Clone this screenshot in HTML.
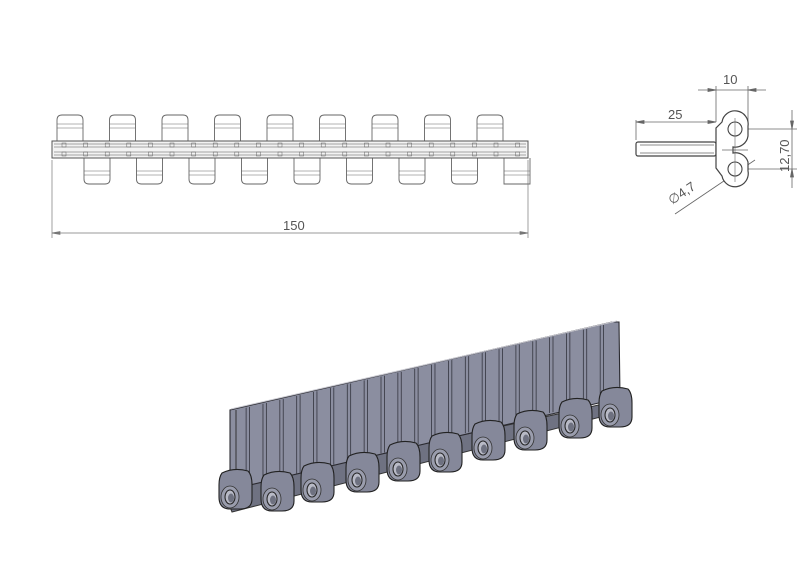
<!DOCTYPE html>
<html><head><meta charset="utf-8"><style>
html,body{margin:0;padding:0;background:#fff;width:800px;height:567px;overflow:hidden}
svg{display:block}
text{font-family:"Liberation Sans",sans-serif;fill:#555}
</style></head><body>
<svg id="s" width="800" height="567" viewBox="0 0 800 567" xmlns="http://www.w3.org/2000/svg">
<g id="topv" stroke="#666" stroke-width="0.9" fill="none"></g>
<g stroke="#777" stroke-width="0.7" fill="none">
<line x1="52" y1="160" x2="52" y2="238"/><line x1="528" y1="160" x2="528" y2="238"/>
<line x1="52" y1="233" x2="528" y2="233"/>
<path d="M52 233 l8 -1.5 v3 z M528 233 l-8 -1.5 v3 z" fill="#777"/>
</g>
<text x="283" y="230" font-size="13">150</text>
<g stroke="#666" stroke-width="0.8" fill="none">
<line x1="636" y1="120" x2="636" y2="140"/>
<line x1="636" y1="122" x2="716" y2="122"/><path d="M636 122 l8 -1.5 v3z M716 122 l-8 -1.5 v3z" fill="#666"/>
<line x1="716" y1="86" x2="716" y2="122"/><line x1="748" y1="86" x2="748" y2="122"/>
<line x1="698" y1="90" x2="766" y2="90"/><path d="M716 90 l-8 -1.5 v3z M748 90 l8 -1.5 v3z" fill="#666"/>
<line x1="748" y1="129" x2="797" y2="129"/><line x1="745" y1="169" x2="797" y2="169"/>
<line x1="792" y1="110" x2="792" y2="188"/><path d="M792 129 l-1.5 -8 h3z M792 169 l-1.5 8 h3z" fill="#666"/>
<line x1="675" y1="214" x2="755" y2="160"/>
<rect x="636" y="142" width="80" height="14" rx="2" stroke="#444" stroke-width="1.2"/>
<line x1="640" y1="145" x2="714" y2="145"/><line x1="640" y1="153" x2="714" y2="153"/>
<path d="M722 122 A13 13 0 0 1 748 126 L748 136 A13 13 0 0 1 733 147 L733 153 A13 13 0 0 1 748 162 L748 171 A13 13 0 0 1 722 176 L716 168 L716 128 Z" stroke="#444" stroke-width="1.2" fill="#fff"/>
<circle cx="735" cy="129" r="7" stroke="#444" stroke-width="1.1"/>
<circle cx="735" cy="169" r="7" stroke="#444" stroke-width="1.1"/>
<line x1="735" y1="118" x2="735" y2="182" stroke-width="0.6"/>
<line x1="722" y1="150" x2="748" y2="150"/>
</g>
<text x="723" y="84" font-size="13">10</text>
<text x="668" y="119" font-size="13">25</text>
<text font-size="13" transform="translate(789,172) rotate(-90)">12,70</text>
<text font-size="13" transform="translate(672,205) rotate(-34)">∅4,7</text>
<g id="iso"></g>
</svg>
<script>
(function(){
const ns="http://www.w3.org/2000/svg";
function el(p,t,a){const e=document.createElementNS(ns,t);for(const k in a)e.setAttribute(k,a[k]);p.appendChild(e);return e;}
const tp=document.getElementById('topv');
for(let i=0;i<9;i++){const x=57+i*52.5;
 el(tp,'path',{d:`M${x} 141 V120 Q${x} 115 ${x+5} 115 H${x+21} Q${x+26} 115 ${x+26} 120 V141`});
 el(tp,'line',{x1:x,y1:124,x2:x+26,y2:124,'stroke-width':0.5});el(tp,'line',{x1:x,y1:128,x2:x+26,y2:128,'stroke-width':0.5});
 const bx=84+i*52.5;const last=i==8;
 el(tp,'path',{d:last?`M${bx} 158 V184 H${bx+26} V158`:`M${bx} 158 V179 Q${bx} 184 ${bx+5} 184 H${bx+21} Q${bx+26} 184 ${bx+26} 179 V158`});
 el(tp,'line',{x1:bx,y1:171,x2:bx+26,y2:171,'stroke-width':0.5});el(tp,'line',{x1:bx,y1:175,x2:bx+26,y2:175,'stroke-width':0.5});
}
el(tp,'rect',{x:52,y:141,width:476,height:17,fill:'#f3f3f3',stroke:'#555','stroke-width':1});
[144,147,152,155].forEach(y=>el(tp,'line',{x1:54,y1:y,x2:526,y2:y,stroke:'#555','stroke-width':0.6}));
for(let x=62;x<526;x+=21.6){el(tp,'rect',{x:x,y:143,width:4,height:4,'stroke-width':0.5});el(tp,'rect',{x:x,y:152,width:4,height:4,'stroke-width':0.5});}
const iso=document.getElementById('iso');
el(iso,'path',{d:'M222 488 L612 402 L620 412 L232 512 Z',fill:'#6f7282',stroke:'#333','stroke-width':1});
el(iso,'path',{d:'M230 410 L612 322 L619 322 L620 398 L237 488 L230 485 Z',fill:'#8b8ea0',stroke:'#2a2a30','stroke-width':1.1});
el(iso,'line',{x1:236,y1:410,x2:236,y2:488,stroke:'#333','stroke-width':1});
el(iso,'line',{x1:231,y1:409,x2:617,y2:321,stroke:'#c8c8d0','stroke-width':1});
for(let i=0;i<22;i++){const t=(i+0.6)/22.3;
 [0,0.009].forEach(d=>{const tt=t+d;const x=236+tt*(612-236);const yt=409-tt*(409-322)+1;const yb=488-tt*(488-398);
 el(iso,'line',{x1:x,y1:yt,x2:x,y2:yb,stroke:'#33343e','stroke-width':0.8});});}
const hs=[[230,497],[272,499],[312,490],[357,480],[398,469],[440,460],[483,448],[525,438],[570,426],[610,415]];
hs.forEach(([x,y])=>{
 el(iso,'path',{d:`M${x-8} ${y-24} Q${x+4} ${y-30} ${x+18} ${y-26} Q${x+22} ${y-22} ${x+22} ${y-12} L${x+22} ${y+2} Q${x+22} ${y+12} ${x+10} ${y+12} L${x} ${y+12} Q${x-11} ${y+12} ${x-11} ${y} L${x-11} ${y-12} Q${x-11} ${y-20} ${x-8} ${y-24} Z`,fill:'#85889a',stroke:'#222','stroke-width':1.1});
 el(iso,'ellipse',{cx:x,cy:y,rx:9,ry:11,fill:'#9a9dad',stroke:'#333','stroke-width':0.8});
 el(iso,'ellipse',{cx:x,cy:y,rx:5,ry:7,fill:'#b8bac6',stroke:'#222','stroke-width':1});
 el(iso,'ellipse',{cx:x+1,cy:y+1,rx:3,ry:4.5,fill:'#6e7180'});
});
})();
</script>
</body></html>
